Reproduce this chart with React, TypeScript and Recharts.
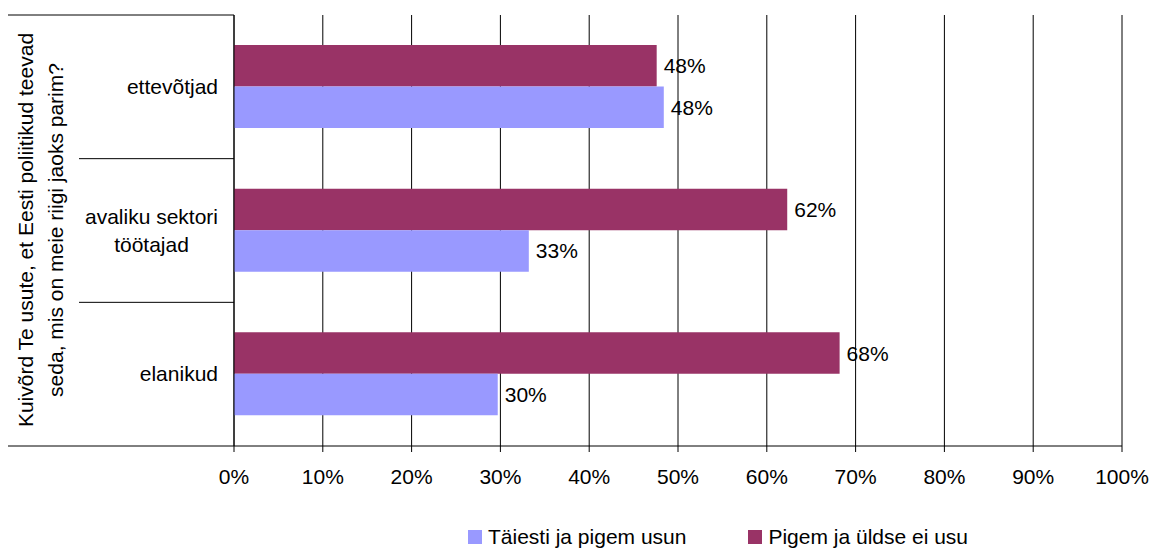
import { BarChart, Bar, XAxis, YAxis, CartesianGrid, LabelList } from "recharts"

const categories = ["ettevõtjad", "avaliku sektori\ntöötajad", "elanikud"]
const believe = [48.4, 33.2, 29.7]
const dontBelieve = [47.6, 62.3, 68.2]
const xTicks = [0, 10, 20, 30, 40, 50, 60, 70, 80, 90, 100]

const SERIES_BELIEVE = "Täiesti ja pigem usun"
const SERIES_DONT = "Pigem ja üldse ei usu"
const TITLE_LINES = ["Kuivõrd Te usute, et Eesti poliitikud teevad", "seda, mis on meie riigi jaoks parim?"]

const BLUE = "#9999FF"
const MAROON = "#993366"
const FONT = "'Liberation Sans', Arial, sans-serif"

const W = 1152
const H = 548
const MARGIN = { top: 15, right: 30, bottom: 72, left: 0 }
const Y_AXIS_W = 234
const X_AXIS_H = 30
const PLOT_H = H - MARGIN.top - MARGIN.bottom - X_AXIS_H
const BAND = PLOT_H / categories.length

const data = categories.map((name, i) => ({
  name,
  believe: believe[i],
  dontBelieve: dontBelieve[i],
}))

const pct = (v: any) => `${Math.round(Number(v))}%`

const CategoryTick = ({ y, payload, index }: any) => {
  const lines: string[] = String(payload.value).split("\n")
  const axisX = Y_AXIS_W
  const top = y - BAND / 2
  const bottom = y + BAND / 2
  const multi = lines.length > 1
  // wrapped labels are centred on their own block, block is right aligned
  const tx = multi ? axisX - 16 - 66.5 : axisX - 16
  const lh = 28
  const startDy = -((lines.length - 1) * lh) / 2
  return (
    <g>
      {index === 0 && <line x1={8} x2={axisX} y1={top} y2={top} stroke="#000" />}
      {index > 0 && <line x1={79} x2={axisX} y1={top} y2={top} stroke="#000" />}
      {index === categories.length - 1 && (
        <line x1={8} x2={axisX} y1={bottom} y2={bottom} stroke="#000" />
      )}
      <text
        x={tx}
        y={y}
        textAnchor={multi ? "middle" : "end"}
        fontSize={21}
        fontFamily={FONT}
        fill="#000"
      >
        {lines.map((l, i) => (
          <tspan key={i} x={tx} dy={i === 0 ? startDy + 7 : lh}>
            {l}
          </tspan>
        ))}
      </text>
    </g>
  )
}

export default function App() {
  return (
    <div style={{ position: "absolute", left: 0, top: 0, width: W, height: H, background: "#fff", fontFamily: FONT }}>
      <BarChart
        width={W}
        height={H}
        data={data}
        layout="vertical"
        margin={MARGIN}
        barSize={41.5}
        barGap={0}
      >
        <CartesianGrid horizontal={false} stroke="#000" />
        <XAxis
          type="number"
          domain={[0, 100]}
          ticks={xTicks}
          tickFormatter={(v) => `${v}%`}
          height={X_AXIS_H}
          axisLine={{ stroke: "#000" }}
          tickLine={{ stroke: "#000" }}
          tickSize={6}
          tickMargin={17}
          tick={{ fontSize: 21, fill: "#000", fontFamily: FONT }}
          interval={0}
        />
        <YAxis
          type="category"
          dataKey="name"
          width={Y_AXIS_W}
          axisLine={{ stroke: "#000" }}
          tickLine={false}
          tick={<CategoryTick />}
          interval={0}
        />
        <Bar dataKey="dontBelieve" name={SERIES_DONT} fill={MAROON} isAnimationActive={false}>
          <LabelList
            dataKey="dontBelieve"
            position="right"
            offset={7}
            formatter={pct}
            style={{ fontSize: 21, fill: "#000", fontFamily: FONT }}
          />
        </Bar>
        <Bar dataKey="believe" name={SERIES_BELIEVE} fill={BLUE} isAnimationActive={false}>
          <LabelList
            dataKey="believe"
            position="right"
            offset={7}
            formatter={pct}
            style={{ fontSize: 21, fill: "#000", fontFamily: FONT }}
          />
        </Bar>
      </BarChart>

      {/* rotated axis title */}
      <svg width={80} height={H} style={{ position: "absolute", left: 0, top: 0 }}>
        <text transform="translate(33,230) rotate(-90)" textAnchor="middle" fontSize={21} fontFamily={FONT} fill="#000">
          {TITLE_LINES.map((l, i) => (
            <tspan key={i} x={0} dy={i === 0 ? 0 : 29.5}>
              {l}
            </tspan>
          ))}
        </text>
      </svg>

      {/* legend */}
      <div style={{ position: "absolute", top: 524, left: 468, display: "flex", alignItems: "center", fontSize: 21, color: "#000", lineHeight: "26px" }}>
        <span style={{ width: 14, height: 14, background: BLUE, display: "inline-block", marginRight: 6 }} />
        <span style={{ marginRight: 62 }}>{SERIES_BELIEVE}</span>
        <span style={{ width: 14, height: 14, background: MAROON, display: "inline-block", marginRight: 6 }} />
        <span>{SERIES_DONT}</span>
      </div>
    </div>
  )
}
